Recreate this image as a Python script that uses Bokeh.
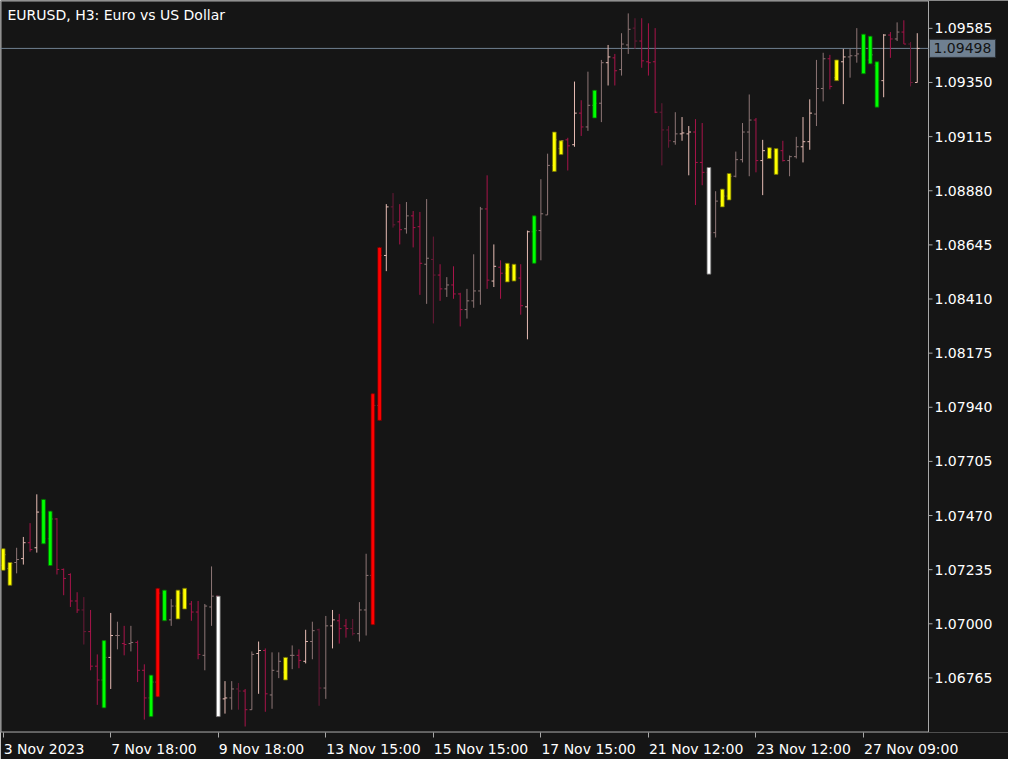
from bokeh.plotting import figure
from bokeh.models import ColumnDataSource, FixedTicker, Label, Range1d
from bokeh.core.properties import value
from bokeh.embed import file_html
from bokeh.resources import INLINE

# ---------------- data (EURUSD H3 bars) ----------------
opens = [1.07253, 1.07240, 1.07266, 1.07283, 1.07352, 1.07330, 1.07485, 1.07369, 1.07455, 1.07236,
         1.07214, 1.07099, 1.07060, 1.06966, 1.06816, 1.06756, 1.06854, 1.06949, 1.06914, 1.06914,
         1.06919, 1.06798, 1.06678, 1.06747, 1.07133, 1.07017, 1.07077, 1.07133, 1.07086, 1.07051,
         1.06863, 1.07073, 1.07120, 1.06674, 1.06678, 1.06717, 1.06708, 1.06627, 1.06871, 1.06884,
         1.06691, 1.06794, 1.06790, 1.06863, 1.06863, 1.06837, 1.06923, 1.06974, 1.06721, 1.06991,
         1.07013, 1.06991, 1.06979, 1.06957, 1.07060, 1.07210, 1.07948, 1.08599, 1.08810, 1.08745,
         1.08715, 1.08771, 1.08724, 1.08561, 1.08582, 1.08514, 1.08454, 1.08471, 1.08432, 1.08364,
         1.08402, 1.08445, 1.08801, 1.08488, 1.08548, 1.08522, 1.08548, 1.08501, 1.08376, 1.08702,
         1.08707, 1.08775, 1.08990, 1.09063, 1.09101, 1.09080, 1.09217, 1.09157, 1.09251, 1.09260,
         1.09436, 1.09457, 1.09406, 1.09513, 1.09586, 1.09530, 1.09440, 1.09440, 1.09221, 1.09144,
         1.09093, 1.09127, 1.09127, 1.09135, 1.09003, 1.08960, 1.08698, 1.08835, 1.08857, 1.08943,
         1.09015, 1.09135, 1.09187, 1.09011, 1.09030, 1.09050, 1.09054, 1.09011, 1.09028, 1.09071,
         1.09093, 1.09213, 1.09324, 1.09453, 1.09371, 1.09440, 1.09461, 1.09466, 1.09474, 1.09448,
         1.09423, 1.09358, 1.09556, 1.09539, 1.09569, 1.09517, 1.09350]
highs = [1.07326, 1.07266, 1.07330, 1.07377, 1.07437, 1.07562, 1.07540, 1.07489, 1.07459, 1.07240,
         1.07219, 1.07137, 1.07116, 1.07060, 1.06867, 1.06927, 1.07047, 1.07009, 1.06991, 1.06991,
         1.06927, 1.06824, 1.06777, 1.07154, 1.07146, 1.07107, 1.07146, 1.07154, 1.07099, 1.07099,
         1.07086, 1.07249, 1.07120, 1.06751, 1.06751, 1.06743, 1.06717, 1.06880, 1.06923, 1.06893,
         1.06876, 1.06876, 1.06854, 1.06906, 1.06889, 1.06974, 1.07009, 1.06979, 1.07034, 1.07060,
         1.07043, 1.07021, 1.07021, 1.07094, 1.07304, 1.07999, 1.08634, 1.08822, 1.08870, 1.08822,
         1.08831, 1.08792, 1.08788, 1.08844, 1.08681, 1.08561, 1.08505, 1.08552, 1.08437, 1.08454,
         1.08604, 1.08810, 1.08947, 1.08647, 1.08578, 1.08565, 1.08561, 1.08561, 1.08707, 1.08771,
         1.08930, 1.09041, 1.09135, 1.09097, 1.09110, 1.09354, 1.09273, 1.09397, 1.09316, 1.09448,
         1.09513, 1.09474, 1.09564, 1.09650, 1.09629, 1.09629, 1.09607, 1.09586, 1.09260, 1.09161,
         1.09221, 1.09200, 1.09161, 1.09191, 1.09174, 1.08981, 1.08878, 1.08887, 1.08955, 1.09050,
         1.09174, 1.09298, 1.09196, 1.09101, 1.09067, 1.09063, 1.09097, 1.09033, 1.09114, 1.09200,
         1.09277, 1.09448, 1.09479, 1.09470, 1.09448, 1.09496, 1.09496, 1.09586, 1.09560, 1.09551,
         1.09440, 1.09560, 1.09569, 1.09611, 1.09620, 1.09526, 1.09564]
lows = [1.07232, 1.07167, 1.07219, 1.07257, 1.07313, 1.07309, 1.07347, 1.07253, 1.07214, 1.07124,
        1.07073, 1.07047, 1.06910, 1.06798, 1.06648, 1.06635, 1.06717, 1.06889, 1.06863, 1.06880,
        1.06747, 1.06584, 1.06597, 1.06683, 1.07013, 1.06991, 1.07021, 1.07064, 1.07013, 1.06846,
        1.06798, 1.06991, 1.06597, 1.06610, 1.06627, 1.06627, 1.06554, 1.06627, 1.06696, 1.06618,
        1.06631, 1.06764, 1.06756, 1.06803, 1.06807, 1.06828, 1.06846, 1.06644, 1.06674, 1.06893,
        1.06914, 1.06940, 1.06949, 1.06923, 1.06949, 1.06996, 1.07883, 1.08531, 1.08720, 1.08647,
        1.08694, 1.08634, 1.08428, 1.08389, 1.08304, 1.08402, 1.08419, 1.08411, 1.08291, 1.08325,
        1.08372, 1.08385, 1.08454, 1.08462, 1.08411, 1.08484, 1.08488, 1.08342, 1.08235, 1.08565,
        1.08578, 1.08775, 1.08964, 1.09037, 1.08968, 1.09071, 1.09118, 1.09140, 1.09196, 1.09178,
        1.09337, 1.09337, 1.09380, 1.09474, 1.09496, 1.09414, 1.09380, 1.09217, 1.08990, 1.09067,
        1.09080, 1.09097, 1.08947, 1.08818, 1.08904, 1.08518, 1.08677, 1.08810, 1.08840, 1.08938,
        1.09003, 1.08943, 1.08960, 1.08861, 1.09020, 1.08951, 1.09007, 1.08943, 1.09020, 1.09003,
        1.09058, 1.09161, 1.09268, 1.09320, 1.09358, 1.09256, 1.09371, 1.09436, 1.09388, 1.09431,
        1.09243, 1.09286, 1.09457, 1.09530, 1.09517, 1.09333, 1.09350]
closes = [1.07300, 1.07262, 1.07279, 1.07352, 1.07322, 1.07485, 1.07369, 1.07455, 1.07236, 1.07197,
          1.07099, 1.07060, 1.06966, 1.06816, 1.06756, 1.06854, 1.06949, 1.06949, 1.06910, 1.06919,
          1.06798, 1.06678, 1.06747, 1.07133, 1.07017, 1.07077, 1.07133, 1.07086, 1.07051, 1.06867,
          1.07077, 1.07120, 1.06674, 1.06678, 1.06717, 1.06708, 1.06627, 1.06867, 1.06884, 1.06696,
          1.06798, 1.06837, 1.06850, 1.06863, 1.06841, 1.06923, 1.06970, 1.06721, 1.06991, 1.07017,
          1.06979, 1.06979, 1.06957, 1.07060, 1.07210, 1.07948, 1.08599, 1.08810, 1.08732, 1.08711,
          1.08771, 1.08720, 1.08565, 1.08587, 1.08514, 1.08454, 1.08471, 1.08432, 1.08364, 1.08402,
          1.08445, 1.08801, 1.08492, 1.08552, 1.08522, 1.08548, 1.08505, 1.08381, 1.08702, 1.08707,
          1.08780, 1.08990, 1.09101, 1.09097, 1.09075, 1.09217, 1.09157, 1.09251, 1.09260, 1.09436,
          1.09461, 1.09401, 1.09517, 1.09581, 1.09530, 1.09444, 1.09436, 1.09221, 1.09144, 1.09097,
          1.09127, 1.09131, 1.09135, 1.09003, 1.08960, 1.08698, 1.08835, 1.08857, 1.08943, 1.09015,
          1.09135, 1.09187, 1.09011, 1.09054, 1.09060, 1.08970, 1.09011, 1.09028, 1.09071, 1.09093,
          1.09217, 1.09324, 1.09453, 1.09333, 1.09440, 1.09461, 1.09466, 1.09474, 1.09448, 1.09470,
          1.09358, 1.09556, 1.09539, 1.09569, 1.09517, 1.09350, 1.09498]
# bar class: L/G = rising shades, C/D = falling shades, Y/E/R/W = highlighted (yellow/green/red/white)
kinds = list("YYGLCLEECC" "CCDCCELGCG" "CCEREGYYCC" "GGWLGDCGLC" "GGYGCLGDGL"
             "CCDGGRRLDC" "GCCGDCGCCG" "GGCLCYYCLE" "GGYYCLCGEG" "LCGGDCCCDD"
             "GLLCCWGYYG" "GGCLYYCGGL" "LGGCYLGGEE" "ELCGCDL")
current_price = 1.09498
price_ticks = [1.06765, 1.07000, 1.07235, 1.07470, 1.07705, 1.07940, 1.08175,
               1.08410, 1.08645, 1.08880, 1.09115, 1.09350, 1.09585]
time_tick_bars = [0, 16, 32, 48, 64, 80, 96, 112, 128]
time_tick_labels = ["3 Nov 2023", "7 Nov 18:00", "9 Nov 18:00", "13 Nov 15:00", "15 Nov 15:00",
                    "17 Nov 15:00", "21 Nov 12:00", "23 Nov 12:00", "27 Nov 09:00"]
title_text = "EURUSD, H3:  Euro vs US Dollar"

# ---------------- styling / geometry ----------------
BG = "#151515"
FRAME = "#a8a8a8"
TXT = "#ffffff"
FONT = "DejaVu Sans"
FSIZE = "14px"
BAR_COL = {"L": "#e6bcb4", "G": "#8e7676", "C": "#a8144a", "D": "#6a1a38"}
HI_FILL = {"Y": "#ffff00", "E": "#00ff00", "R": "#ff0000", "W": "#ffffff"}
HI_LINE = {"Y": "#6a6a00", "E": "#006a00", "R": "#6a0000", "W": "#707070"}
TAG_FILL = "#6f8091"

FW, FH = 1008, 732          # frame size (px)
CHART_W = 928               # chart box width, the rest is the price scale
X_START, X_END = -0.40, 137.67
Y_LOW, Y_HIGH = 1.06528, 1.09706
TICK = 0.34

ppb = CHART_W / (X_END - X_START)        # px per bar
ppp = (Y_HIGH - Y_LOW) / FH              # price per px
X_FIG_END = X_START + FW / ppb

n = len(opens)
assert len(kinds) == n
xs = list(range(n))
base_col = []
for i, k in enumerate(kinds):
    if k in BAR_COL:
        base_col.append(BAR_COL[k])
    else:
        base_col.append(BAR_COL["L"] if closes[i] >= opens[i] else BAR_COL["C"])

src = ColumnDataSource(dict(
    x=xs, x_l=[x - TICK for x in xs], x_r=[x + TICK for x in xs],
    o=opens, h=highs, l=lows, c=closes, col=base_col))

hi_idx = [i for i, k in enumerate(kinds) if k in HI_FILL]
hsrc = ColumnDataSource(dict(
    x=[xs[i] for i in hi_idx], h=[highs[i] for i in hi_idx], l=[lows[i] for i in hi_idx],
    fill=[HI_FILL[kinds[i]] for i in hi_idx], line=[HI_LINE[kinds[i]] for i in hi_idx]))

p = figure(frame_width=FW, frame_height=FH,
           x_range=Range1d(X_START, X_FIG_END), y_range=Range1d(Y_LOW, Y_HIGH),
           output_backend="svg", toolbar_location=None, y_axis_location=None,
           min_border_left=0, min_border_top=0, min_border_right=0, min_border_bottom=0,
           background_fill_color=BG, border_fill_color=BG, outline_line_color=None)
p.title.visible = False
p.xgrid.visible = False
p.ygrid.visible = False

# chart box (left, top, right = price scale line, bottom)
bx0, bx1 = X_START + 0.5 / ppb, X_END
by0, by1 = Y_LOW + 0.5 * ppp, Y_HIGH - 0.5 * ppp
p.segment(x0=[bx0, bx0, bx1, bx0], y0=[by0, by1, by0, by0],
          x1=[bx0, bx1, bx1, bx1], y1=[by1, by1, by1, by0],
          line_color=FRAME, line_width=1)

# current price line
p.segment(x0=[X_START], y0=[current_price], x1=[X_END], y1=[current_price],
          line_color=TAG_FILL, line_width=1)

# normal OHLC bars
p.segment(x0="x", y0="l", x1="x", y1="h", color="col", line_width=1, source=src)
p.segment(x0="x_l", y0="o", x1="x", y1="o", color="col", line_width=1, source=src)
p.segment(x0="x", y0="c", x1="x_r", y1="c", color="col", line_width=1, source=src)
# highlighted bars
p.vbar(x="x", width=0.56, top="h", bottom="l", fill_color="fill", line_color="line",
       line_width=0.8, source=hsrc)

# price scale on the right
p.segment(x0=[X_END] * len(price_ticks), y0=price_ticks,
          x1=[X_END + 4 / ppb] * len(price_ticks), y1=price_ticks,
          line_color=FRAME, line_width=1)
p.text(x=[X_END + 6 / ppb] * len(price_ticks), y=price_ticks,
       text=[f"{t:.5f}" for t in price_ticks], text_color=TXT,
       text_font=value(FONT), text_font_size=FSIZE, text_baseline="middle", text_align="left")
# current price tag
p.quad(left=[X_END + 1 / ppb], right=[X_END + 67 / ppb],
       bottom=[current_price - 9 * ppp], top=[current_price + 9 * ppp],
       fill_color=TAG_FILL, line_color="#2c3238", line_width=1)
p.text(x=[X_END + 5 / ppb], y=[current_price], text=[f"{current_price:.5f}"],
       text_color="#141414", text_font=value(FONT), text_font_size=FSIZE,
       text_baseline="middle", text_align="left")

# bottom time axis: labels placed to the right of their tick marks
CW = {"0": .636, "1": .636, "2": .636, "3": .636, "4": .636, "5": .636, "6": .636, "7": .636,
      "8": .636, "9": .636, " ": .318, ":": .337, "N": .748, "o": .612, "v": .592}
centers = []
for b, t in zip(time_tick_bars, time_tick_labels):
    wpx = sum(CW.get(ch, 0.6) for ch in t) * 14
    centers.append(round(b + (wpx / 2 + 0.5) / ppb, 3))
xa = p.xaxis[0]
xa.ticker = FixedTicker(ticks=centers, minor_ticks=time_tick_bars)
xa.major_label_overrides = {c: t for c, t in zip(centers, time_tick_labels)}
xa.axis_line_color = None
xa.major_tick_line_color = None
xa.major_tick_out = 0
xa.major_tick_in = 0
xa.minor_tick_line_color = FRAME
xa.minor_tick_out = 5
xa.minor_tick_in = 0
xa.major_label_standoff = 3
xa.major_label_text_color = TXT
xa.major_label_text_font = FONT
xa.major_label_text_font_size = FSIZE

# chart title (top-left)
p.add_layout(Label(x=X_START, y=Y_HIGH, x_offset=7, y_offset=-14, text=title_text,
                   text_color=TXT, text_font=FONT, text_font_size=FSIZE,
                   text_baseline="middle", text_align="left"))

open("out.html", "w").write(file_html(p, INLINE))
